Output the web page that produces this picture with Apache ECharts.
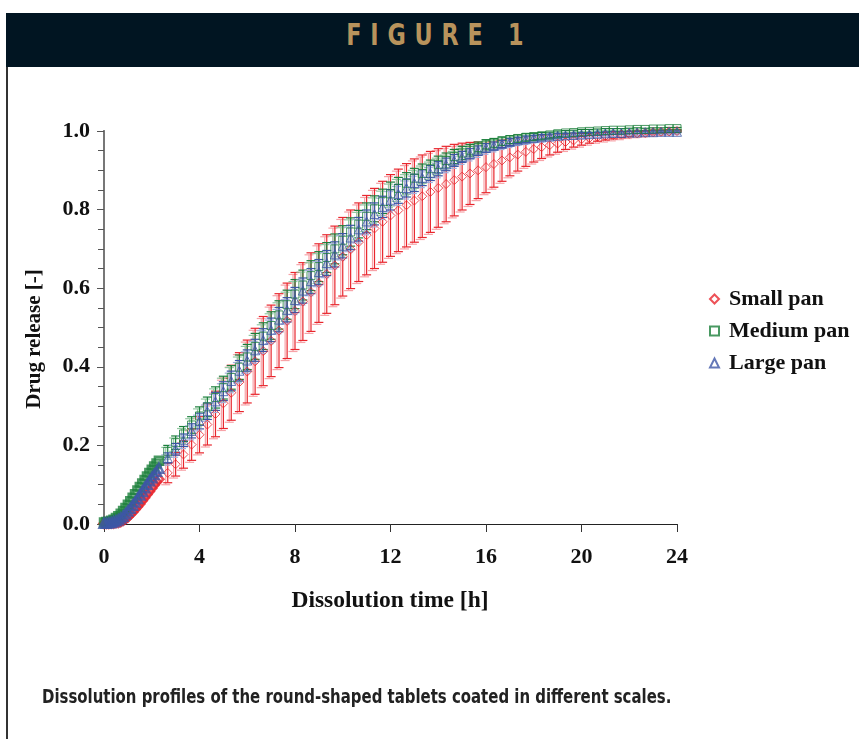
<!DOCTYPE html>
<html>
<head>
<meta charset="utf-8">
<title>Figure 1</title>
<script src="https://cdn.jsdelivr.net/npm/echarts@6/dist/echarts.min.js"></script>
<style>
html, body { margin: 0; padding: 0; background: #fff; }
#chart { position: absolute; left: 0; top: 0; width: 859px; height: 739px; }
#hdr {
  position: absolute; left: 6px; top: 13px; width: 853px; height: 54px;
  background: #011522; text-align: center; line-height: 54px;
}
#hdr span {
  display: inline-block; transform: scaleX(0.8); margin-left: 14px;
  color: #b8935c; font: bold 31px 'DejaVu Sans Condensed', 'DejaVu Sans', sans-serif;
  letter-spacing: 11px;
}
</style>
</head>
<body>
<div id="chart"></div>
<div id="hdr"><span>FIGURE 1</span></div>
<script>
// dense sampling at the start (no visible error bars)
var tEarly = [0, 0.1, 0.2, 0.3, 0.4, 0.5, 0.6, 0.7, 0.8, 0.9, 1.0, 1.1, 1.2, 1.3, 1.4, 1.5, 1.6, 1.7, 1.8, 1.9, 2.0, 2.1, 2.2, 2.3]
var smallEarly = [0.001, 0.001, 0.001, 0.002, 0.002, 0.003, 0.004, 0.006, 0.009, 0.013, 0.018, 0.024, 0.030, 0.037, 0.044, 0.051, 0.059, 0.067, 0.075, 0.083, 0.091, 0.099, 0.107, 0.114]
var mediumEarly = [0.004, 0.005, 0.006, 0.008, 0.011, 0.015, 0.020, 0.026, 0.033, 0.041, 0.049, 0.058, 0.067, 0.076, 0.085, 0.094, 0.103, 0.112, 0.121, 0.130, 0.138, 0.146, 0.154, 0.161]
var largeEarly = [0.002, 0.002, 0.003, 0.004, 0.006, 0.008, 0.011, 0.015, 0.020, 0.026, 0.033, 0.040, 0.048, 0.056, 0.065, 0.074, 0.083, 0.092, 0.101, 0.110, 0.118, 0.126, 0.134, 0.142]

// 20 min sampling with standard deviations
var tLate = [2.67, 3, 3.33, 3.67, 4, 4.33, 4.67, 5, 5.33, 5.67, 6, 6.33, 6.67, 7, 7.33, 7.67, 8, 8.33, 8.67, 9, 9.33, 9.67, 10, 10.33, 10.67, 11, 11.33, 11.67, 12, 12.33, 12.67, 13, 13.33, 13.67, 14, 14.33, 14.67, 15, 15.33, 15.67, 16, 16.33, 16.67, 17, 17.33, 17.67, 18, 18.33, 18.67, 19, 19.33, 19.67, 20, 20.33, 20.67, 21, 21.33, 21.67, 22, 22.33, 22.67, 23, 23.33, 23.67, 24]
var smallLate = [0.130, 0.152, 0.177, 0.202, 0.227, 0.253, 0.280, 0.307, 0.334, 0.361, 0.388, 0.414, 0.440, 0.466, 0.492, 0.517, 0.542, 0.566, 0.590, 0.613, 0.636, 0.658, 0.680, 0.699, 0.717, 0.735, 0.752, 0.769, 0.785, 0.798, 0.811, 0.823, 0.834, 0.845, 0.855, 0.865, 0.875, 0.884, 0.892, 0.900, 0.908, 0.916, 0.925, 0.933, 0.940, 0.947, 0.954, 0.959, 0.964, 0.968, 0.972, 0.976, 0.979, 0.982, 0.985, 0.987, 0.989, 0.991, 0.993, 0.994, 0.995, 0.997, 0.998, 0.999, 1.000]
var smallErr = [0.025, 0.030, 0.035, 0.040, 0.046, 0.052, 0.058, 0.064, 0.070, 0.075, 0.080, 0.084, 0.088, 0.091, 0.094, 0.096, 0.098, 0.099, 0.100, 0.100, 0.100, 0.100, 0.100, 0.100, 0.100, 0.101, 0.102, 0.103, 0.104, 0.105, 0.106, 0.106, 0.105, 0.103, 0.100, 0.096, 0.091, 0.085, 0.079, 0.072, 0.065, 0.059, 0.053, 0.047, 0.042, 0.037, 0.033, 0.029, 0.025, 0.022, 0.019, 0.017, 0.015, 0.013, 0.011, 0.010, 0.009, 0.008, 0.007, 0.006, 0.005, 0.005, 0.004, 0.004, 0.003]
var mediumLate = [0.185, 0.207, 0.229, 0.252, 0.275, 0.298, 0.322, 0.347, 0.373, 0.399, 0.425, 0.452, 0.478, 0.505, 0.532, 0.558, 0.585, 0.608, 0.632, 0.655, 0.678, 0.700, 0.722, 0.743, 0.763, 0.783, 0.802, 0.821, 0.840, 0.854, 0.867, 0.880, 0.892, 0.904, 0.915, 0.925, 0.935, 0.944, 0.951, 0.958, 0.965, 0.969, 0.974, 0.978, 0.981, 0.984, 0.986, 0.988, 0.990, 0.993, 0.995, 0.996, 0.998, 0.999, 1.000, 1.001, 1.002, 1.002, 1.003, 1.004, 1.004, 1.005, 1.005, 1.006, 1.006]
var mediumErr = [0.015, 0.017, 0.019, 0.021, 0.023, 0.025, 0.027, 0.029, 0.030, 0.031, 0.032, 0.033, 0.034, 0.035, 0.036, 0.037, 0.037, 0.038, 0.038, 0.038, 0.038, 0.038, 0.037, 0.036, 0.035, 0.034, 0.033, 0.031, 0.030, 0.028, 0.027, 0.025, 0.024, 0.022, 0.021, 0.019, 0.018, 0.017, 0.015, 0.014, 0.013, 0.012, 0.011, 0.010, 0.009, 0.009, 0.008, 0.008, 0.007, 0.007, 0.006, 0.006, 0.006, 0.005, 0.005, 0.005, 0.004, 0.004, 0.004, 0.004, 0.003, 0.003, 0.003, 0.003, 0.003]
var largeLate = [0.168, 0.190, 0.213, 0.237, 0.262, 0.287, 0.312, 0.338, 0.364, 0.390, 0.416, 0.442, 0.468, 0.494, 0.520, 0.545, 0.570, 0.594, 0.618, 0.641, 0.664, 0.686, 0.708, 0.729, 0.750, 0.770, 0.789, 0.807, 0.825, 0.840, 0.855, 0.868, 0.881, 0.893, 0.904, 0.915, 0.925, 0.934, 0.942, 0.950, 0.957, 0.962, 0.967, 0.972, 0.976, 0.979, 0.982, 0.984, 0.986, 0.988, 0.989, 0.990, 0.991, 0.992, 0.993, 0.994, 0.995, 0.995, 0.996, 0.996, 0.997, 0.997, 0.998, 0.998, 0.998]
var largeErr = [0.013, 0.015, 0.016, 0.018, 0.020, 0.021, 0.023, 0.024, 0.025, 0.026, 0.027, 0.028, 0.029, 0.030, 0.031, 0.031, 0.032, 0.032, 0.032, 0.032, 0.032, 0.032, 0.031, 0.031, 0.030, 0.029, 0.028, 0.027, 0.026, 0.024, 0.023, 0.022, 0.020, 0.019, 0.018, 0.016, 0.015, 0.014, 0.013, 0.012, 0.011, 0.010, 0.009, 0.009, 0.008, 0.008, 0.007, 0.007, 0.006, 0.006, 0.005, 0.005, 0.005, 0.004, 0.004, 0.004, 0.004, 0.003, 0.003, 0.003, 0.003, 0.003, 0.002, 0.002, 0.002]

var names = ['Small pan', 'Medium pan', 'Large pan']
var serif = "'Liberation Serif', 'Times New Roman', serif"

function points (early, late) {
  var arr = []
  for (var i = 0; i < tEarly.length; i++) {
    arr.push({ value: [tEarly[i], early[i]], itemStyle: { borderWidth: 2.5 } })
  }
  for (var j = 0; j < tLate.length; j++) arr.push([tLate[j], late[j]])
  return arr
}

function bars (late, err) {
  return tLate.map(function (t, i) {
    return [t, late[i] - err[i], late[i] + err[i]]
  })
}

function errorSeries (data, color, dx, dy) {
  return {
    type: 'custom',
    silent: true,
    clip: false,
    z: 2,
    data: data,
    encode: { x: 0, y: [1, 2] },
    renderItem: function (params, api) {
      var lo = api.coord([api.value(0), api.value(1)])
      var hi = api.coord([api.value(0), api.value(2)])
      var x = lo[0] + dx
      var w = 4.5
      var st = { stroke: color, lineWidth: 1.2 }
      return {
        type: 'group',
        children: [
          { type: 'line', shape: { x1: x, y1: lo[1] + dy, x2: x, y2: hi[1] + dy }, style: st },
          { type: 'line', shape: { x1: x - w, y1: hi[1] + dy, x2: x + w, y2: hi[1] + dy }, style: st },
          { type: 'line', shape: { x1: x - w, y1: lo[1] + dy, x2: x + w, y2: lo[1] + dy }, style: st }
        ]
      }
    }
  }
}

function markSeries (name, data, symbol, size, color) {
  return {
    name: name,
    type: 'scatter',
    clip: false,
    z: 3,
    data: data,
    symbol: symbol,
    symbolSize: size,
    itemStyle: { color: 'rgba(0,0,0,0)', borderColor: color, borderWidth: 1 }
  }
}

var chart = echarts.init(document.getElementById('chart'))
var option = {
  animation: false,
  backgroundColor: '#fff',
  grid: { left: 104, right: 182, top: 131, bottom: 215 },
  legend: {
    data: names,
    orient: 'vertical',
    left: 709,
    top: 288,
    itemWidth: 9,
    itemHeight: 9,
    itemGap: 10,
    padding: 0,
    textStyle: { fontFamily: serif, fontWeight: 'bold', fontSize: 22, color: '#111', padding: [0, 0, 0, 5] }
  },
  xAxis: [{
    type: 'value',
    min: 0,
    max: 24,
    interval: 4,
    axisLine: { lineStyle: { color: '#222', width: 1 } },
    axisTick: { show: true, length: 8, lineStyle: { color: '#333' } },
    axisLabel: { margin: 22, fontFamily: serif, fontWeight: 'bold', fontSize: 22, color: '#111' },
    splitLine: { show: false }
  }, {
    type: 'value',
    position: 'top',
    min: 0,
    max: 24,
    axisLine: { show: true, lineStyle: { color: '#222', width: 1 } },
    axisTick: { show: false },
    axisLabel: { show: false },
    splitLine: { show: false }
  }],
  yAxis: [{
    type: 'value',
    min: 0,
    max: 1,
    interval: 0.2,
    axisLine: { show: true, lineStyle: { color: '#888', width: 2 } },
    axisTick: { show: true, length: 7, lineStyle: { color: '#555' } },
    minorTick: { show: true, splitNumber: 4, length: 6, lineStyle: { color: '#555' } },
    axisLabel: {
      margin: 14,
      fontFamily: serif,
      fontWeight: 'bold',
      fontSize: 22,
      color: '#111',
      formatter: function (v) { return v.toFixed(1) }
    },
    splitLine: { show: false }
  }, {
    type: 'value',
    position: 'right',
    min: 0,
    max: 1,
    axisLine: { show: true, lineStyle: { color: '#777', width: 2 } },
    axisTick: { show: false },
    axisLabel: { show: false },
    splitLine: { show: false }
  }],
  graphic: [
    { type: 'rect', shape: { x: 6, y: 67, width: 2, height: 672 }, style: { fill: '#333' } },
    {
      type: 'text', x: 35, y: 339, rotation: Math.PI / 2,
      style: { text: 'Drug release [-]', fontFamily: serif, fontWeight: 'bold', fontSize: 21, fill: '#111', textAlign: 'center', textVerticalAlign: 'middle' }
    },
    {
      type: 'text', x: 390, y: 601,
      style: { text: 'Dissolution time [h]', fontFamily: serif, fontWeight: 'bold', fontSize: 23.5, fill: '#111', textAlign: 'center', textVerticalAlign: 'middle' }
    },
    {
      type: 'text', x: 42, y: 698, scaleX: 0.83,
      style: { text: 'Dissolution profiles of the round-shaped tablets coated in different scales.', fontFamily: "'DejaVu Sans Condensed', 'DejaVu Sans', sans-serif", fontWeight: 'bold', fontSize: 20, fill: '#222', textVerticalAlign: 'middle' }
    }
  ],
  series: [
    errorSeries(bars(smallLate, smallErr), '#f7a3a8', -2, 2),
    errorSeries(bars(smallLate, smallErr), '#e8262d', 0, 0),
    markSeries(names[0], points(smallEarly, smallLate), 'diamond', 9, '#e8262d'),
    errorSeries(bars(mediumLate, mediumErr), '#93c9a2', -2, 2),
    errorSeries(bars(mediumLate, mediumErr), '#1b7f3b', 0, 0),
    markSeries(names[1], points(mediumEarly, mediumLate), 'rect', 8, '#1b7f3b'),
    errorSeries(bars(largeLate, largeErr), '#a3aedb', -2, 2),
    errorSeries(bars(largeLate, largeErr), '#3d56a6', 0, 0),
    markSeries(names[2], points(largeEarly, largeLate), 'triangle', 9, '#3d56a6')
  ]
}
chart.setOption(option)
</script>
</body>
</html>
